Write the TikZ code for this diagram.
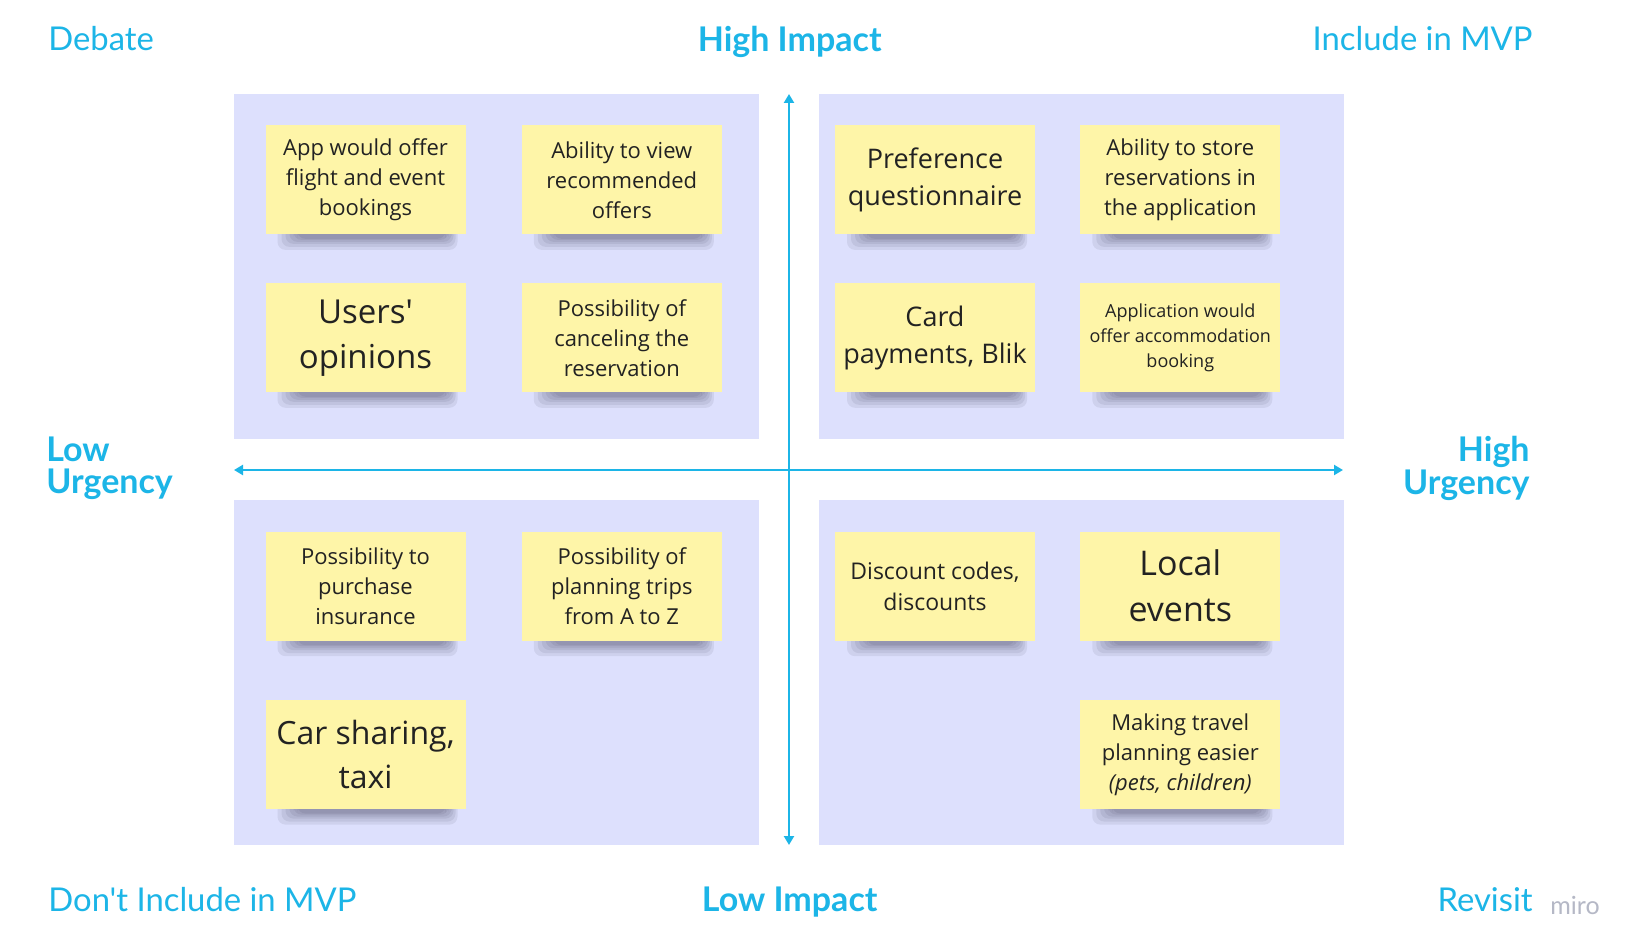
\documentclass[tikz,border=0pt]{standalone}
\usepackage{fontspec}
\setmainfont{Open Sans}
\newfontfamily\labfont{Lato}
\usetikzlibrary{arrows.meta}
\definecolor{quadbg}{HTML}{DDE0FD}
\definecolor{stickybg}{HTML}{FEF5A8}
\definecolor{axisblue}{HTML}{1CB5E7}
\definecolor{txtdark}{HTML}{222222}
\definecolor{mirogray}{HTML}{B5B8C6}
\definecolor{shadcol}{HTML}{3A3A55}
\tikzset{
  quad/.style={fill=quadbg, draw=none, minimum width=262.5pt, minimum height=172.5pt, inner sep=0pt},
  sticky/.style={fill=stickybg, draw=none, minimum width=100pt, minimum height=54.5pt, inner sep=2pt, align=center, text=txtdark},
  lab/.style={text=axisblue, font=\labfont\fontsize{16.4}{19}\selectfont, inner sep=0pt},
  labb/.style={text=axisblue, font=\labfont\bfseries\fontsize{17}{16.2}\selectfont, inner sep=0pt},
  axis/.style={draw=axisblue, line width=1.2pt, {Triangle[length=4.5pt,width=5pt]}-{Triangle[length=4.5pt,width=5pt]}},
  shad/.style={fill=shadcol, opacity=0.09, rounded corners=4pt}
}
\newcommand{\stk}[5]{%
  \fill[shad] (#2-88,#3+45) rectangle (#2+92,#3+70);
  \fill[shad] (#2-84,#3+46) rectangle (#2+90,#3+67);
  \fill[shad] (#2-80,#3+47) rectangle (#2+88,#3+64);
  \fill[shad] (#2-76,#3+48) rectangle (#2+86,#3+62);
  \fill[shad] (#2-72,#3+49) rectangle (#2+83,#3+60);
  \fill[shad] (#2-68,#3+50) rectangle (#2+80,#3+59);
  \node[sticky, font=#4] (#1) at (#2,#3) {#5};}
\begin{document}
\begin{tikzpicture}[x=0.5pt,y=-0.5pt]
\useasboundingbox (0,0) rectangle (1640,952);
\fill[white] (0,0) rectangle (1640,952);
% quadrants
\node[quad] (qtl) at (496.5,266.5) {};
\node[quad] (qtr) at (1081,266.5) {};
\node[quad] (qbl) at (496.5,672.5) {};
\node[quad] (qbr) at (1081,672.5) {};
% axes
\coordinate (atop) at (789,94);
\coordinate (abot) at (789,845);
\coordinate (aleft) at (234,470);
\coordinate (aright) at (1343,470);
\draw[axis] (atop) -- (abot);
\draw[axis] (aleft) -- (aright);
% stickies
\stk{s1}{365.5}{179.9}{\fontsize{11}{15}\selectfont}{App would offer\\flight and event\\bookings}
\stk{s2}{621.8}{179.9}{\fontsize{11}{15}\selectfont}{Ability to view\\recommended\\offers}
\stk{s3}{365.5}{337.8}{\fontsize{16.5}{22.5}\selectfont}{Users\textquotesingle\\opinions}
\stk{s4}{621.8}{337.8}{\fontsize{11}{15}\selectfont}{Possibility of\\canceling the\\reservation}
\stk{s5}{935}{179.9}{\fontsize{13.5}{18.3}\selectfont}{Preference\\questionnaire}
\stk{s6}{1180.3}{179.9}{\fontsize{11}{15}\selectfont}{Ability to store\\reservations in\\the application}
\stk{s7}{935}{337.8}{\fontsize{13.5}{18.3}\selectfont}{Card\\payments, Blik}
\stk{s8}{1180.3}{337.8}{\fontsize{9}{12.3}\selectfont}{Application would\\offer accommodation\\booking}
\stk{s9}{365.5}{586.2}{\fontsize{11}{15}\selectfont}{Possibility to\\purchase\\insurance}
\stk{s10}{621.8}{586.2}{\fontsize{11}{15}\selectfont}{Possibility of\\planning trips\\from A to Z}
\stk{s11}{365.5}{754.6}{\fontsize{16}{22}\selectfont}{Car sharing,\\taxi}
\stk{s12}{935}{586.2}{\fontsize{11.5}{15.7}\selectfont}{Discount codes,\\discounts}
\stk{s13}{1180.3}{586.2}{\fontsize{17}{23}\selectfont}{Local\\events}
\stk{s14}{1180.3}{754.6}{\fontsize{11}{15}\selectfont}{Making travel\\planning easier\\\textit{(pets, children)}}
% corner labels
\node[lab, anchor=west] (ldebate) at (48,38.7) {Debate};
\node[labb] (lhigh) at (789.7,41.5) {High Impact};
\node[lab, anchor=east] (linclude) at (1533,38.7) {Include in MVP};
\node[labb, anchor=west, align=left] (llowu) at (46,468.5) {Low\\Urgency};
\node[labb, anchor=east, align=right] (lhighu) at (1530,468.5) {High\\Urgency};
\node[lab, anchor=west] (ldont) at (48,899.5) {Don't Include in MVP};
\node[labb] (llow) at (789.7,902.5) {Low Impact};
\node[lab, anchor=east] (lrevisit) at (1533,899.5) {Revisit};
\node[text=mirogray, font=\labfont\fontsize{12.5}{14}\selectfont, inner sep=0pt, anchor=west] (lmiro) at (1550,905.7) {miro};
\end{tikzpicture}
\end{document}
